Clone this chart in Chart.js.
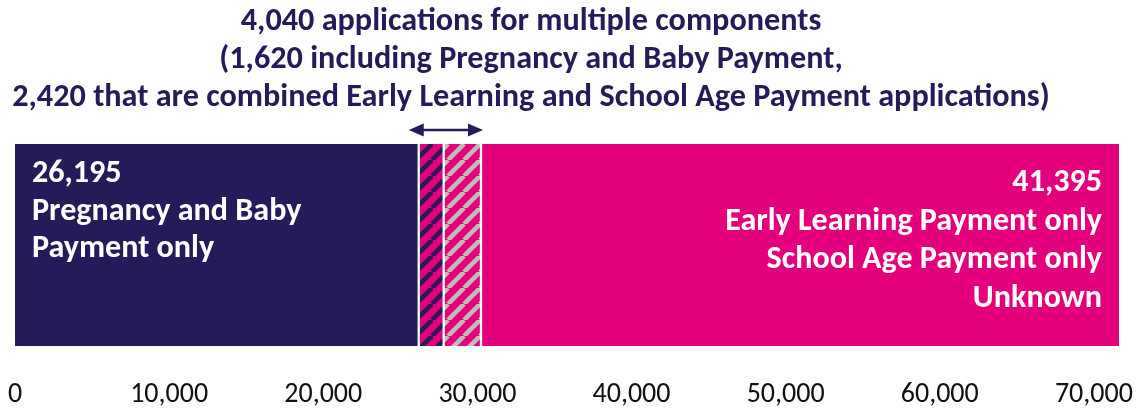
<!DOCTYPE html>
<html>
<head>
<meta charset="utf-8">
<script src="https://cdn.jsdelivr.net/npm/chart.js@4/dist/chart.umd.min.js"></script>
<style>
  html, body { margin: 0; padding: 0; background: #ffffff; }
  #wrap { width: 1142px; height: 408px; position: relative; }
</style>
</head>
<body>
<div id="wrap"><canvas id="c" width="1142" height="408"></canvas></div>
<script>
// ---- data ----
const categories = ['Applications'];
const segmentNames = [
  'Pregnancy and Baby Payment only',
  'Multiple components incl. Pregnancy and Baby Payment',
  'Combined Early Learning and School Age Payment',
  'Early Learning / School Age Payment only / Unknown'
];
const segmentValues = [26195, 1620, 2420, 41395];
const tickValues = [0, 10000, 20000, 30000, 40000, 50000, 60000, 70000];
const titleLines = [
  '4,040 applications for multiple components',
  '(1,620 including Pregnancy and Baby Payment,',
  '2,420 that are combined Early Learning and School Age Payment applications)'
];
const leftLabelLines = ['26,195', 'Pregnancy and Baby', 'Payment only'];
const rightLabelLines = ['41,395', 'Early Learning Payment only', 'School Age Payment only', 'Unknown'];

// ---- styles ----
const NAVY = '#241c5a';
const PINK = '#e4007c';
const GREY = '#bdbdbd';
const FAMILY = 'Carlito, Lato, "Liberation Sans", sans-serif';

function stripePattern(bg, fg) {
  const s = 16;
  const c = document.createElement('canvas');
  c.width = s; c.height = s;
  const g = c.getContext('2d');
  g.fillStyle = bg; g.fillRect(0, 0, s, s);
  g.strokeStyle = fg; g.lineWidth = 4.5;
  for (const k of [-1, 0, 1]) {
    g.beginPath();
    g.moveTo(k * s, s);
    g.lineTo(k * s + s, 0);
    g.stroke();
  }
  return g.createPattern(c, 'repeat');
}

const fills = [NAVY, stripePattern(PINK, NAVY), stripePattern(PINK, GREY), PINK];
const borders = [
  {left: 0, right: 1.5, top: 0, bottom: 0},
  {left: 1.5, right: 1.5, top: 0, bottom: 0},
  {left: 1.5, right: 1.5, top: 0, bottom: 0},
  {left: 1.5, right: 0, top: 0, bottom: 0}
];
const total = segmentValues.reduce((a, b) => a + b, 0);

function fitSize(ctx, text, weight, target) {
  ctx.font = weight + ' 100px ' + FAMILY;
  return 100 * target / ctx.measureText(text).width;
}

const overlay = {
  id: 'overlay',
  afterDatasetsDraw(chart) {
    const ctx = chart.ctx;
    const area = chart.chartArea;
    const xs = chart.scales.x;
    ctx.save();
    // title
    const tSize = fitSize(ctx, titleLines[2], 'bold', 1038);
    ctx.font = 'bold ' + tSize.toFixed(2) + 'px ' + FAMILY;
    ctx.fillStyle = NAVY;
    ctx.textAlign = 'center';
    ctx.textBaseline = 'alphabetic';
    titleLines.forEach((t, i) => ctx.fillText(t, 531, 30 + i * 38));

    // double arrow over the multi-component segments
    const xa = xs.getPixelForValue(segmentValues[0]) - 10;
    const xb = xs.getPixelForValue(segmentValues[0] + segmentValues[1] + segmentValues[2]) + 2;
    const ya = area.top - 14;
    ctx.strokeStyle = NAVY; ctx.fillStyle = NAVY; ctx.lineWidth = 2.5;
    ctx.beginPath(); ctx.moveTo(xa + 10, ya); ctx.lineTo(xb - 10, ya); ctx.stroke();
    ctx.beginPath(); ctx.moveTo(xa, ya); ctx.lineTo(xa + 15, ya - 6.5); ctx.lineTo(xa + 15, ya + 6.5); ctx.closePath(); ctx.fill();
    ctx.beginPath(); ctx.moveTo(xb, ya); ctx.lineTo(xb - 15, ya - 6.5); ctx.lineTo(xb - 15, ya + 6.5); ctx.closePath(); ctx.fill();

    // labels in bars
    const lSize = fitSize(ctx, rightLabelLines[1], 'bold', 377);
    ctx.font = 'bold ' + lSize.toFixed(2) + 'px ' + FAMILY;
    ctx.fillStyle = '#ffffff';
    const first = chart.getDatasetMeta(0).data[0];
    const last = chart.getDatasetMeta(3).data[0];
    ctx.textAlign = 'left';
    leftLabelLines.forEach((t, i) => ctx.fillText(t, first.base + 17, area.top + 38 + i * 37.5));
    ctx.textAlign = 'right';
    rightLabelLines.forEach((t, i) => ctx.fillText(t, last.x - 17, area.top + 47 + i * 38.7));
    ctx.restore();
  }
};

new Chart(document.getElementById('c'), {
  type: 'bar',
  data: {
    labels: categories,
    datasets: segmentValues.map((v, i) => ({
      label: segmentNames[i],
      data: [v],
      backgroundColor: fills[i],
      borderColor: '#ffffff',
      borderWidth: borders[i],
      borderSkipped: false,
      barPercentage: 1,
      categoryPercentage: 1
    }))
  },
  options: {
    indexAxis: 'y',
    responsive: false,
    animation: false,
    layout: { padding: { left: 15, right: 23, top: 144, bottom: 0 } },
    plugins: { legend: { display: false }, title: { display: false }, tooltip: { enabled: false } },
    scales: {
      x: {
        stacked: true,
        min: 0,
        max: total,
        grid: { display: false, drawTicks: false },
        border: { display: false },
        afterBuildTicks: scale => { scale.ticks = tickValues.map(v => ({ value: v })); },
        afterFit: scale => { scale.height = 62; scale.paddingLeft = 0; scale.paddingRight = 0; },
        ticks: {
          autoSkip: false,
          maxRotation: 0,
          minRotation: 0,
          padding: 32,
          color: '#111111',
          font: { family: FAMILY, size: 28 },
          callback: v => Number(v).toLocaleString('en-US')
        }
      },
      y: { stacked: true, display: false }
    }
  },
  plugins: [overlay]
});
</script>
</body>
</html>
